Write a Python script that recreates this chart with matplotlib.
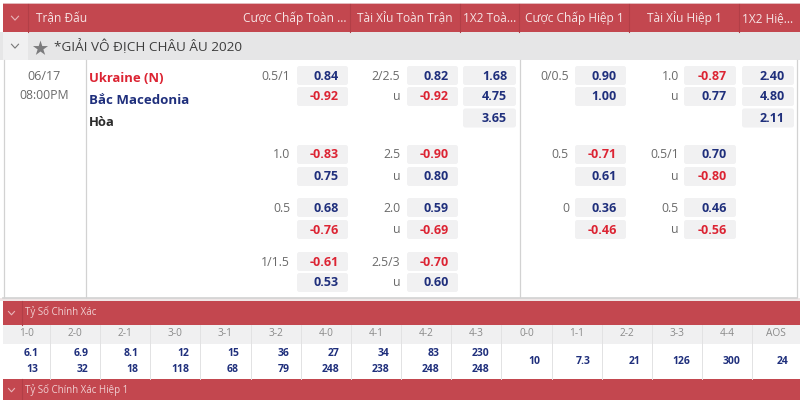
import matplotlib.pyplot as plt
from matplotlib.patches import Rectangle, FancyBboxPatch

plt.rcParams['font.family'] = ['Open Sans', 'Noto Sans', 'DejaVu Sans']

# header
headers = ['Cược Chấp Toàn ...', 'Tài Xỉu Toàn Trận', '1X2 Toà...', 'Cược Chấp Hiệp 1', 'Tài Xỉu Hiệp 1', '1X2 Hiệ...']
league = '*GIẢI VÔ ĐỊCH CHÂU ÂU 2020'
match_date = '06/17'
match_time = '08:00PM'
team_home = 'Ukraine (N)'
team_away = 'Bắc Macedonia'
draw_label = 'Hòa'

# odds, one block per row of lines
ft_hdp_lines = ['0.5/1', '1.0', '0.5', '1/1.5']
ft_hdp_odds = [[0.84, -0.92], [-0.83, 0.75], [0.68, -0.76], [-0.61, 0.53]]
ft_ou_lines = ['2/2.5', '2.5', '2.0', '2.5/3']
ft_ou_odds = [[0.82, -0.92], [-0.90, 0.80], [0.59, -0.69], [-0.70, 0.60]]
ft_1x2 = [1.68, 4.75, 3.65]
ht_hdp_lines = ['0/0.5', '0.5', '0']
ht_hdp_odds = [[0.90, 1.00], [-0.71, 0.61], [0.36, -0.46]]
ht_ou_lines = ['1.0', '0.5/1', '0.5']
ht_ou_odds = [[-0.87, 0.77], [0.70, -0.80], [0.46, -0.56]]
ht_1x2 = [2.40, 4.80, 2.11]

# correct score
section1 = 'Tỷ Số Chính Xác'
section2 = 'Tỷ Số Chính Xác Hiệp 1'
score_labels = ['1-0', '2-0', '2-1', '3-0', '3-1', '3-2', '4-0', '4-1', '4-2', '4-3',
                '0-0', '1-1', '2-2', '3-3', '4-4', 'AOS']
score_top = ['6.1', '6.9', '8.1', '12', '15', '36', '27', '34', '83', '230',
             '10', '7.3', '21', '126', '300', '24']
score_bottom = ['13', '32', '18', '118', '68', '79', '248', '238', '248', '248',
                '', '', '', '', '', '']

RED = '#c3474f'
DARKRED = '#b23f47'
BLUE = '#1f2f7c'
ODD_RED = '#dc2433'
BOX = '#f1f1f2'
GREY = '#6a6a6a'
LINE = '#d2d2d2'

fig = plt.figure(figsize=(8, 4), dpi=100)
ax = fig.add_axes([0, 0, 1, 1])
ax.set_xlim(0, 800)
ax.set_ylim(400, 0)
ax.axis('off')


def rect(x0, y0, x1, y1, color, z=1):
    ax.add_patch(Rectangle((x0, y0), x1 - x0, y1 - y0, facecolor=color, edgecolor='none', zorder=z))


def chevron(x, y, color, size=3.5):
    ax.plot([x - size, x, x + size], [y - size * 0.5, y + size * 0.6, y - size * 0.5],
            color=color, lw=0.8, zorder=4)


def odd_box(x0, x1, y0, y1, val):
    ax.add_patch(FancyBboxPatch((x0 + 2, y0 + 2), x1 - x0 - 4, y1 - y0 - 4,
                                boxstyle='round,pad=2,rounding_size=2.5',
                                facecolor=BOX, edgecolor='none', zorder=2))
    color = ODD_RED if val < 0 else BLUE
    ax.text(x1 - 9, (y0 + y1) / 2 + 0.5, f'{val:.2f}', color=color, fontsize=9, fontweight='bold',
            ha='right', va='center', zorder=3)


# top bars
rect(3, 4, 800, 32, RED)
rect(3, 2.5, 800, 4, '#e3b9bc')
for x in [28, 350, 460, 519, 629, 739]:
    ax.plot([x, x], [4, 32], color=DARKRED, lw=0.8, zorder=2)
chevron(15, 18, '#e8b6ba')
ax.text(36, 18.5, 'Trận Đấu', color='#f6e4e5', fontsize=8.6, ha='left', va='center', zorder=3)
header_x = [294.5, 405, 490, 574, 684, 768]
for x, label in zip(header_x, headers):
    ax.text(x, 18.5, label, color='#f6e4e5', fontsize=8.6, ha='center', va='center', zorder=3)

# league band
rect(0, 32, 800, 60, '#e6e6e7')
rect(3, 32, 28, 60, '#f0f0f1', z=2)
chevron(15, 46, '#777777')
ax.scatter([40], [47.5], marker='*', s=130, color='#7b7b7d', linewidths=0, zorder=3)
ax.text(54, 47, league, color='#3d3d3d', fontsize=9.7, ha='left', va='center', zorder=3)

# match area
rect(3, 60, 797, 297, 'white')
for x in [3.5, 85.5, 519.5, 796.5]:
    ax.plot([x, x], [60, 297], color=LINE, lw=0.9, zorder=2)
ax.plot([3, 797], [297.5, 297.5], color=LINE, lw=1.2, zorder=2)
ax.text(44, 76.5, match_date, color=GREY, fontsize=9, ha='center', va='center')
ax.text(44, 95.5, match_time, color=GREY, fontsize=8.8, ha='center', va='center')
ax.text(89, 78, team_home, color=ODD_RED, fontsize=9.4, fontweight='bold', ha='left', va='center')
ax.text(89, 100, team_away, color=BLUE, fontsize=9.5, fontweight='bold', ha='left', va='center')
ax.text(89, 123, draw_label, color='#2b2b2b', fontsize=9.4, fontweight='bold', ha='left', va='center')

block_y = [(66, 85, 87, 106), (145, 164, 167, 186), (198, 217, 220, 239), (252, 271, 273, 292)]


def odds_column(lines, odds, x0, x1, label_x, under):
    for line, pair, (a0, a1, b0, b1) in zip(lines, odds, block_y):
        odd_box(x0, x1, a0, a1, pair[0])
        odd_box(x0, x1, b0, b1, pair[1])
        ax.text(label_x, (a0 + a1) / 2 + 0.5, line, color=GREY, fontsize=8.8, ha='right', va='center')
        if under:
            ax.text(label_x, (b0 + b1) / 2, 'u', color=GREY, fontsize=8.8, ha='right', va='center')


odds_column(ft_hdp_lines, ft_hdp_odds, 297, 348, 290, False)
odds_column(ft_ou_lines, ft_ou_odds, 407, 458, 400, True)
odds_column(ht_hdp_lines, ht_hdp_odds, 575, 626, 569, False)
odds_column(ht_ou_lines, ht_ou_odds, 684, 736, 679, True)

x12_y = [(66, 85), (87, 106), (108.5, 127.5)]
for val, (y0, y1) in zip(ft_1x2, x12_y):
    odd_box(463, 516, y0, y1, val)
for val, (y0, y1) in zip(ht_1x2, x12_y):
    odd_box(742, 794, y0, y1, val)

# correct score tables
rect(0, 298, 800, 301, '#efe6e6')
rect(3, 301, 800, 325, RED)
ax.plot([22, 22], [301, 325], color=DARKRED, lw=0.8, zorder=2)
chevron(11.5, 313, '#e8b6ba', 3)
ax.text(25, 311.5, section1, color='#f0cfd1', fontsize=7, ha='left', va='center', zorder=3)

rect(3, 325, 800, 344, '#f0f0f1')
rect(3, 344, 800, 379, 'white')
edges = [3] + [50 + 50.15 * i for i in range(15)] + [800]
for i, label in enumerate(score_labels):
    x0, x1 = edges[i], edges[i + 1]
    ax.text((x0 + x1) / 2, 334, label, color='#8a8a8a', fontsize=7.3, ha='center', va='center', zorder=3)
    if score_bottom[i]:
        ax.text(x1 - 11.5, 353.5, score_top[i], color=BLUE, fontsize=7.5, fontweight='bold',
                ha='right', va='center', zorder=3)
        ax.text(x1 - 11.5, 370, score_bottom[i], color=BLUE, fontsize=7.5, fontweight='bold',
                ha='right', va='center', zorder=3)
    else:
        ax.text(x1 - 11.5, 362, score_top[i], color=BLUE, fontsize=7.5, fontweight='bold',
                ha='right', va='center', zorder=3)
    if i > 0:
        ax.plot([x0, x0], [325, 379], color='#e2e2e3', lw=0.7, zorder=2)

rect(3, 379, 800, 400, RED)
ax.plot([22, 22], [379, 400], color=DARKRED, lw=0.8, zorder=2)
chevron(11.5, 390, '#e8b6ba', 3)
ax.text(25, 389.5, section2, color='#f0cfd1', fontsize=7, ha='left', va='center', zorder=3)

fig.savefig('out.png', dpi=100)
